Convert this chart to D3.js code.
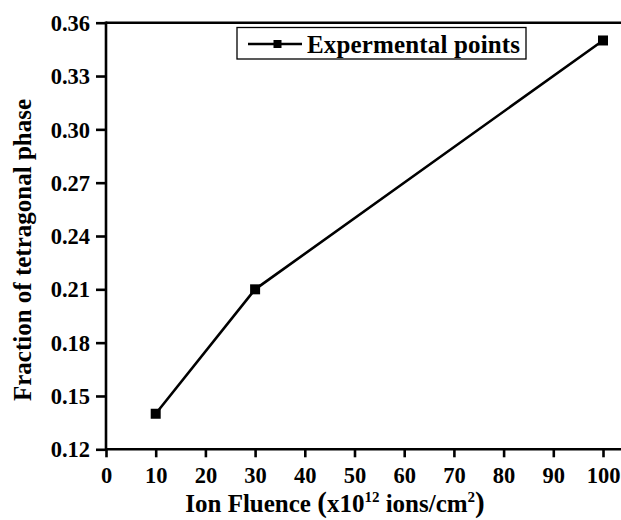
<!DOCTYPE html>
<html>
<head>
<meta charset="utf-8">
<script src="https://cdn.jsdelivr.net/npm/d3@7"></script>
<style>
  html, body { margin: 0; padding: 0; background: #fff; }
  svg { display: block; }
  text { font-family: "Liberation Serif", "Times New Roman", serif; font-weight: bold; fill: #000; }
</style>
</head>
<body>
<svg id="chart" width="621" height="520"></svg>
<script>
// Ion fluence (x10^12 ions/cm^2) and fraction of tetragonal phase
const fluence = [10, 30, 100];
const fraction = [0.14, 0.21, 0.35];
const xTicks = [0, 10, 20, 30, 40, 50, 60, 70, 80, 90, 100];
const yTicks = [0.12, 0.15, 0.18, 0.21, 0.24, 0.27, 0.30, 0.33, 0.36];
const seriesName = "Expermental points";

const W = 621, H = 520;
const plotLeft = 106, plotTop = 22.7, plotBottom = 449.3;
const svg = d3.select("#chart");

const x = d3.scaleLinear().domain([0, 100]).range([plotLeft, 603]);
const y = d3.scaleLinear().domain([0.12, 0.36]).range([plotBottom, plotTop]);

// top frame line running across to the right edge
svg.append("line")
  .attr("x1", plotLeft).attr("x2", W)
  .attr("y1", plotTop).attr("y2", plotTop)
  .attr("stroke", "#000").attr("stroke-width", 2.6);

// x axis
const xAxis = svg.append("g")
  .attr("transform", `translate(0,${plotBottom})`)
  .call(d3.axisBottom(x).tickValues(xTicks).tickSize(8).tickPadding(10).tickFormat(d3.format("d")));
xAxis.select(".domain").remove();
xAxis.append("line").attr("x1", plotLeft).attr("x2", W).attr("y1", 0).attr("y2", 0)
  .attr("stroke", "#000").attr("stroke-width", 2.6);
xAxis.selectAll(".tick line").attr("stroke-width", 2.6);
xAxis.selectAll(".tick text").style("font-size", "22.5px").attr("dy", "0.7em")
  .style("font-family", '"Liberation Serif", serif').style("font-weight", "bold");

// y axis
const yAxis = svg.append("g")
  .attr("transform", `translate(${plotLeft},0)`)
  .call(d3.axisLeft(y).tickValues(yTicks).tickSize(10).tickPadding(6).tickFormat(d3.format(".2f")));
yAxis.select(".domain").remove();
yAxis.append("line").attr("x1", 0).attr("x2", 0).attr("y1", plotTop - 1.3).attr("y2", plotBottom + 1.3)
  .attr("stroke", "#000").attr("stroke-width", 2.6);
yAxis.selectAll(".tick line").attr("stroke-width", 2.6);
yAxis.selectAll(".tick text").style("font-size", "22.5px").attr("dy", "0.34em")
  .style("font-family", '"Liberation Serif", serif').style("font-weight", "bold");

// data line and square markers
const line = d3.line().x((d, i) => x(fluence[i])).y(d => y(d));
svg.append("path")
  .datum(fraction)
  .attr("d", line)
  .attr("fill", "none")
  .attr("stroke", "#000")
  .attr("stroke-width", 2.6);

const ms = 10;
svg.selectAll("rect.pt")
  .data(fraction)
  .join("rect")
  .attr("class", "pt")
  .attr("x", (d, i) => x(fluence[i]) - ms / 2)
  .attr("y", d => y(d) - ms / 2)
  .attr("width", ms).attr("height", ms)
  .attr("fill", "#000");

// legend
const lg = svg.append("g");
lg.append("rect")
  .attr("x", 237).attr("y", 27.5).attr("width", 289).attr("height", 31.5)
  .attr("fill", "#fff").attr("stroke", "#000").attr("stroke-width", 1.3);
lg.append("line")
  .attr("x1", 248).attr("x2", 302).attr("y1", 44).attr("y2", 44)
  .attr("stroke", "#000").attr("stroke-width", 2.6);
lg.append("rect")
  .attr("x", 277.5 - 4).attr("y", 44 - 4).attr("width", 8).attr("height", 8)
  .attr("fill", "#000");
lg.append("text")
  .attr("x", 307).attr("y", 52.5)
  .attr("textLength", 213)
  .style("font-size", "25px")
  .text(seriesName);

// axis titles
svg.append("text")
  .attr("transform", `translate(31,250) rotate(-90)`)
  .attr("text-anchor", "middle")
  .style("font-size", "25px")
  .text("Fraction of tetragonal phase");

const xt = svg.append("text")
  .attr("x", 335).attr("y", 512)
  .attr("text-anchor", "middle")
  .style("font-size", "25px");
xt.append("tspan").text("Ion Fluence ");
xt.append("tspan").style("font-size", "29px").text("(");
xt.append("tspan").text("x10");
xt.append("tspan").attr("dy", -10).style("font-size", "15px").text("12");
xt.append("tspan").attr("dy", 10).text(" ions/cm");
xt.append("tspan").attr("dy", -10).style("font-size", "15px").text("2");
xt.append("tspan").attr("dy", 10).style("font-size", "29px").text(")");
</script>
</body>
</html>
